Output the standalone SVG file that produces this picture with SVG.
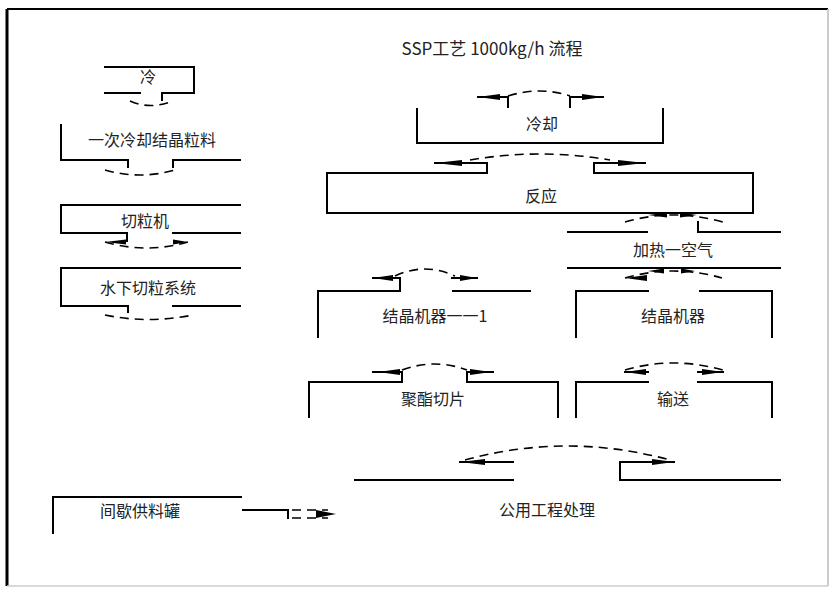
<svg xmlns="http://www.w3.org/2000/svg" width="833" height="595" viewBox="0 0 833 595">
<style>
.ln{stroke:#000;stroke-width:2;fill:none;stroke-linecap:square}
.dash{stroke:#000;stroke-width:1.6;stroke-dasharray:9 6;fill:none}
.ah{fill:#000}
.t{font-family:"Noto Sans CJK SC","Noto Sans CJK SC",sans-serif;font-size:16px;text-anchor:middle;fill:#222}
</style>
<rect width="833" height="595" fill="#fff"/>
<g id="frame">
<line x1="7" y1="9" x2="828" y2="9" stroke="#000" stroke-width="2"/>
<line x1="7" y1="9" x2="7" y2="586" stroke="#000" stroke-width="3"/>
<line x1="828" y1="9" x2="828" y2="586" stroke="#bbb" stroke-width="1.5"/>
<line x1="7" y1="586" x2="828" y2="586" stroke="#ccc" stroke-width="1.5"/>
</g>
<g id="title"><text class="t" x="492" y="55" style="font-size:17px">SSP工艺 1000kg/h 流程</text></g>

<g id="n_left1">
<path class="ln" d="M105,67 H194 V93 H162 V100 M140,93 H105"/>
<text class="t" x="148" y="83">冷</text>
</g>
<g id="n_left2">
<path class="ln" d="M61,125 V160 H128 V167 M173,167 V160 H240"/>
<text class="t" x="152" y="146">一次冷却结晶粒料</text>
</g>
<g id="n_left3">
<path class="ln" d="M240,205 H61 V233 H127 V241 M173,233 H240"/>
<text class="t" x="145" y="227">切粒机</text>
</g>
<g id="n_left4">
<path class="ln" d="M240,268 H61 V306 H128 V312 M173,306 H240"/>
<text class="t" x="148" y="294">水下切粒系统</text>
</g>

<g id="n_cool">
<path class="ln" d="M417,109 V143 H663 V109 M478,97 H508 V107 M570,107 V97 H603"/>
<text class="t" x="542" y="130">冷却</text>
</g>
<g id="n_reactor">
<path class="ln" d="M435,163 H487 V173 H327 V213 H753 V173 H594 V163 H645"/>
<text class="t" x="541" y="202">反应</text>
</g>
<g id="n_heat">
<path class="ln" d="M568,232 H647 M698,222 V232 H780 M568,268 H780"/>
<text class="t" x="673" y="256">加热一空气</text>
</g>
<g id="n_crys1">
<path class="ln" d="M318,337 V291 H400 V278 H373 M452,278 H477 M453,291 H530"/>
<text class="t" x="435" y="322">结晶机器一一1</text>
</g>
<g id="n_crys2">
<path class="ln" d="M576,337 V291 H648 M700,291 H772 V337"/>
<text class="t" x="673" y="322">结晶机器</text>
</g>
<g id="n_chips">
<path class="ln" d="M309,417 V382 H402 V372 H373 M493,372 H467 V382 H558 V417"/>
<text class="t" x="433" y="405">聚酯切片</text>
</g>
<g id="n_convey">
<path class="ln" d="M576,417 V382 H648 M698,382 H772 V417 M625,372 H648 M698,372 H723"/>
<text class="t" x="673" y="405">输送</text>
</g>
<g id="n_utility">
<path class="ln" d="M355,480 H513 M460,462 H513 M674,462 H620 V480 H780"/>
<text class="t" x="547" y="516">公用工程处理</text>
</g>
<g id="n_feed">
<path class="ln" d="M53,533 V497 H241"/>
<text class="t" x="140" y="517">间歇供料罐</text>
</g>

<g id="connectors">
<path class="dash" d="M130,101 Q150,110 173,101"/>
<path class="dash" d="M105,170 Q140,180 175,170"/>
<path class="dash" d="M105,242 Q147,254 188,242"/>
<polygon class="ah" points="105,242 126,239.5 126,244.5"/>
<polygon class="ah" points="188,242 173,239.5 173,244.5"/>
<path class="dash" d="M105,315 Q148,324 193,315"/>
<path class="dash" d="M508,96 Q540,86 570,96"/>
<polygon class="ah" points="478,97 500,94 500,100"/>
<polygon class="ah" points="603,97 582,94 582,100"/>
<path class="dash" d="M470,160 Q540,148 610,160"/>
<polygon class="ah" points="435,163 462,160 462,166"/>
<polygon class="ah" points="645,163 618,160 618,166"/>
<path class="dash" d="M625,222 Q673,208 723,222"/>
<polygon class="ah" points="648,215 667,212.5 667,217.5"/>
<polygon class="ah" points="697,215 680,212.5 680,217.5"/>
<path class="dash" d="M625,278 Q673,264 722,278"/>
<polygon class="ah" points="625,278 647,275 647,281"/>
<polygon class="ah" points="648,271 664,268.5 664,273.5"/>
<polygon class="ah" points="695,271 681,268.5 681,273.5"/>
<path class="dash" d="M395,276 Q425,262 455,276"/>
<polygon class="ah" points="373,278 393,275 393,281"/>
<polygon class="ah" points="477,278 460,275 460,281"/>
<path class="dash" d="M402,370 Q435,358 467,370"/>
<polygon class="ah" points="378,372 400,369 400,375"/>
<polygon class="ah" points="491,372 470,369 470,375"/>
<path class="dash" d="M625,370 Q673,356 723,370"/>
<polygon class="ah" points="625,372 646,369 646,375"/>
<polygon class="ah" points="723,372 702,369 702,375"/>
<path class="dash" d="M465,460 Q567,432 670,460"/>
<polygon class="ah" points="460,462 485,459 485,465"/>
<polygon class="ah" points="674,462 652,459 652,465"/>
<path class="ln" d="M243,510 H288 V518"/>
<path class="dash" d="M292,510 H328 M292,518 H328"/>
<polygon class="ah" points="336,514 316,510 316,518"/>
</g>
</svg>
